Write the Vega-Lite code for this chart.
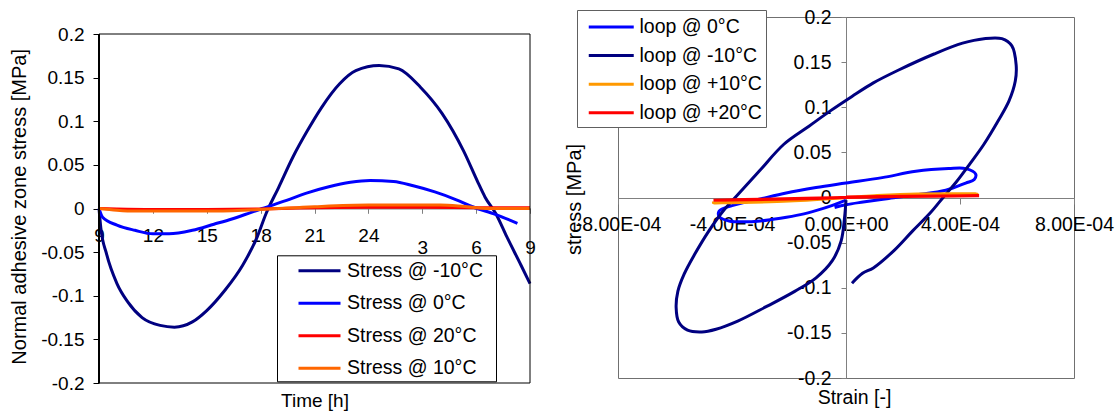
{
  "$schema": "https://vega.github.io/schema/vega-lite/v6.json",
  "background": "white",
  "padding": {"left": 8, "top": 6, "right": 0, "bottom": 0},
  "spacing": 27,
  "resolve": {"scale": {"color": "independent"}, "legend": {"color": "independent"}},
  "config": {
    "font": "Liberation Sans",
    "axis": {"grid": false, "labelFont": "Liberation Sans", "titleFont": "Liberation Sans", "labelColor": "black", "titleColor": "black", "titleFontWeight": "normal"},
    "legend": {"labelFont": "Liberation Sans", "labelColor": "black"}
  },
  "datasets": {
    "timeseries": [
      {"series": "Stress @ -10°C", "time": 9.0, "stress": 0.0},
      {"series": "Stress @ -10°C", "time": 9.1, "stress": -0.022},
      {"series": "Stress @ -10°C", "time": 9.42, "stress": -0.052},
      {"series": "Stress @ -10°C", "time": 10.0, "stress": -0.086},
      {"series": "Stress @ -10°C", "time": 10.6, "stress": -0.107},
      {"series": "Stress @ -10°C", "time": 11.4, "stress": -0.125},
      {"series": "Stress @ -10°C", "time": 12.4, "stress": -0.134},
      {"series": "Stress @ -10°C", "time": 13.2, "stress": -0.136},
      {"series": "Stress @ -10°C", "time": 14.2, "stress": -0.13},
      {"series": "Stress @ -10°C", "time": 15.0, "stress": -0.117},
      {"series": "Stress @ -10°C", "time": 16.0, "stress": -0.094},
      {"series": "Stress @ -10°C", "time": 17.0, "stress": -0.065},
      {"series": "Stress @ -10°C", "time": 17.8, "stress": -0.033},
      {"series": "Stress @ -10°C", "time": 18.3, "stress": -0.006},
      {"series": "Stress @ -10°C", "time": 19.0, "stress": 0.024},
      {"series": "Stress @ -10°C", "time": 19.8, "stress": 0.059},
      {"series": "Stress @ -10°C", "time": 20.6, "stress": 0.089},
      {"series": "Stress @ -10°C", "time": 21.4, "stress": 0.116},
      {"series": "Stress @ -10°C", "time": 22.4, "stress": 0.143},
      {"series": "Stress @ -10°C", "time": 23.3, "stress": 0.158},
      {"series": "Stress @ -10°C", "time": 24.6, "stress": 0.164},
      {"series": "Stress @ -10°C", "time": 25.7, "stress": 0.16},
      {"series": "Stress @ -10°C", "time": 26.9, "stress": 0.139},
      {"series": "Stress @ -10°C", "time": 28.1, "stress": 0.109},
      {"series": "Stress @ -10°C", "time": 29.3, "stress": 0.066},
      {"series": "Stress @ -10°C", "time": 30.1, "stress": 0.03},
      {"series": "Stress @ -10°C", "time": 30.5, "stress": 0.013},
      {"series": "Stress @ -10°C", "time": 31.1, "stress": -0.006},
      {"series": "Stress @ -10°C", "time": 31.7, "stress": -0.032},
      {"series": "Stress @ -10°C", "time": 32.5, "stress": -0.065},
      {"series": "Stress @ -10°C", "time": 33.0, "stress": -0.086},
      {"series": "Stress @ 0°C", "time": 9.0, "stress": 0.0},
      {"series": "Stress @ 0°C", "time": 9.2, "stress": -0.01},
      {"series": "Stress @ 0°C", "time": 10.0, "stress": -0.019},
      {"series": "Stress @ 0°C", "time": 11.0, "stress": -0.025},
      {"series": "Stress @ 0°C", "time": 12.0, "stress": -0.029},
      {"series": "Stress @ 0°C", "time": 12.9, "stress": -0.029},
      {"series": "Stress @ 0°C", "time": 14.2, "stress": -0.025},
      {"series": "Stress @ 0°C", "time": 15.4, "stress": -0.018},
      {"series": "Stress @ 0°C", "time": 16.4, "stress": -0.012},
      {"series": "Stress @ 0°C", "time": 17.4, "stress": -0.005},
      {"series": "Stress @ 0°C", "time": 18.1, "stress": 0.0},
      {"series": "Stress @ 0°C", "time": 19.4, "stress": 0.009},
      {"series": "Stress @ 0°C", "time": 20.6, "stress": 0.018},
      {"series": "Stress @ 0°C", "time": 21.8, "stress": 0.025},
      {"series": "Stress @ 0°C", "time": 23.0, "stress": 0.03},
      {"series": "Stress @ 0°C", "time": 24.1, "stress": 0.032},
      {"series": "Stress @ 0°C", "time": 25.4, "stress": 0.031},
      {"series": "Stress @ 0°C", "time": 26.5, "stress": 0.026},
      {"series": "Stress @ 0°C", "time": 27.7, "stress": 0.019},
      {"series": "Stress @ 0°C", "time": 28.9, "stress": 0.01},
      {"series": "Stress @ 0°C", "time": 29.8, "stress": 0.002},
      {"series": "Stress @ 0°C", "time": 31.1, "stress": -0.007},
      {"series": "Stress @ 0°C", "time": 32.3, "stress": -0.017},
      {"series": "Stress @ 20°C", "time": 9.0, "stress": 0.0},
      {"series": "Stress @ 20°C", "time": 10.0, "stress": -0.0005},
      {"series": "Stress @ 20°C", "time": 12.0, "stress": -0.001},
      {"series": "Stress @ 20°C", "time": 15.0, "stress": -0.001},
      {"series": "Stress @ 20°C", "time": 18.0, "stress": -0.0005},
      {"series": "Stress @ 20°C", "time": 20.0, "stress": 0.0005},
      {"series": "Stress @ 20°C", "time": 24.0, "stress": 0.0015},
      {"series": "Stress @ 20°C", "time": 27.0, "stress": 0.0015},
      {"series": "Stress @ 20°C", "time": 30.0, "stress": 0.001},
      {"series": "Stress @ 20°C", "time": 33.0, "stress": 0.0008},
      {"series": "Stress @ 10°C", "time": 9.0, "stress": 0.0},
      {"series": "Stress @ 10°C", "time": 10.0, "stress": -0.002},
      {"series": "Stress @ 10°C", "time": 11.0, "stress": -0.003},
      {"series": "Stress @ 10°C", "time": 15.0, "stress": -0.003},
      {"series": "Stress @ 10°C", "time": 17.0, "stress": -0.002},
      {"series": "Stress @ 10°C", "time": 18.0, "stress": -0.001},
      {"series": "Stress @ 10°C", "time": 19.0, "stress": 0.0},
      {"series": "Stress @ 10°C", "time": 20.0, "stress": 0.001},
      {"series": "Stress @ 10°C", "time": 21.0, "stress": 0.002},
      {"series": "Stress @ 10°C", "time": 24.0, "stress": 0.004},
      {"series": "Stress @ 10°C", "time": 28.0, "stress": 0.004},
      {"series": "Stress @ 10°C", "time": 29.0, "stress": 0.003},
      {"series": "Stress @ 10°C", "time": 30.0, "stress": 0.001},
      {"series": "Stress @ 10°C", "time": 31.0, "stress": 0.0},
      {"series": "Stress @ 10°C", "time": 33.0, "stress": 0.0}
    ],
    "loops": [
      {"loop": "loop @ 0°C", "i": 1, "strain": 0.0, "stress": -0.003},
      {"loop": "loop @ 0°C", "i": 2, "strain": -0.00005, "stress": -0.009},
      {"loop": "loop @ 0°C", "i": 3, "strain": -0.0001, "stress": -0.014},
      {"loop": "loop @ 0°C", "i": 4, "strain": -0.00016, "stress": -0.019},
      {"loop": "loop @ 0°C", "i": 5, "strain": -0.00023, "stress": -0.023},
      {"loop": "loop @ 0°C", "i": 6, "strain": -0.0003, "stress": -0.026},
      {"loop": "loop @ 0°C", "i": 7, "strain": -0.00036, "stress": -0.027},
      {"loop": "loop @ 0°C", "i": 8, "strain": -0.00041, "stress": -0.026},
      {"loop": "loop @ 0°C", "i": 9, "strain": -0.000445, "stress": -0.021},
      {"loop": "loop @ 0°C", "i": 10, "strain": -0.000445, "stress": -0.015},
      {"loop": "loop @ 0°C", "i": 11, "strain": -0.0004, "stress": -0.009},
      {"loop": "loop @ 0°C", "i": 12, "strain": -0.000305, "stress": -0.002},
      {"loop": "loop @ 0°C", "i": 13, "strain": -0.00021, "stress": 0.005},
      {"loop": "loop @ 0°C", "i": 14, "strain": -0.000105, "stress": 0.011},
      {"loop": "loop @ 0°C", "i": 15, "strain": 0.0, "stress": 0.016},
      {"loop": "loop @ 0°C", "i": 16, "strain": 0.000127, "stress": 0.022},
      {"loop": "loop @ 0°C", "i": 17, "strain": 0.000245, "stress": 0.029},
      {"loop": "loop @ 0°C", "i": 18, "strain": 0.00036, "stress": 0.032},
      {"loop": "loop @ 0°C", "i": 19, "strain": 0.00042, "stress": 0.032},
      {"loop": "loop @ 0°C", "i": 20, "strain": 0.000455, "stress": 0.026},
      {"loop": "loop @ 0°C", "i": 21, "strain": 0.00045, "stress": 0.02},
      {"loop": "loop @ 0°C", "i": 22, "strain": 0.00042, "stress": 0.016},
      {"loop": "loop @ 0°C", "i": 23, "strain": 0.00035, "stress": 0.008},
      {"loop": "loop @ 0°C", "i": 24, "strain": 0.00025, "stress": 0.003},
      {"loop": "loop @ 0°C", "i": 25, "strain": 0.00015, "stress": -0.001},
      {"loop": "loop @ 0°C", "i": 26, "strain": 0.00006, "stress": -0.005},
      {"loop": "loop @ 0°C", "i": 27, "strain": 0.0, "stress": -0.008},
      {"loop": "loop @ 0°C", "i": 28, "strain": -0.00004, "stress": -0.011},
      {"loop": "loop @ -10°C", "i": 1, "strain": 0.0, "stress": -0.003},
      {"loop": "loop @ -10°C", "i": 2, "strain": -0.000005, "stress": -0.022},
      {"loop": "loop @ -10°C", "i": 3, "strain": -0.000017, "stress": -0.048},
      {"loop": "loop @ -10°C", "i": 4, "strain": -0.000048, "stress": -0.07},
      {"loop": "loop @ -10°C", "i": 5, "strain": -0.000105, "stress": -0.089},
      {"loop": "loop @ -10°C", "i": 6, "strain": -0.00018, "stress": -0.104},
      {"loop": "loop @ -10°C", "i": 7, "strain": -0.00028, "stress": -0.121},
      {"loop": "loop @ -10°C", "i": 8, "strain": -0.00038, "stress": -0.137},
      {"loop": "loop @ -10°C", "i": 9, "strain": -0.000456, "stress": -0.146},
      {"loop": "loop @ -10°C", "i": 10, "strain": -0.000506, "stress": -0.149},
      {"loop": "loop @ -10°C", "i": 11, "strain": -0.000556, "stress": -0.147},
      {"loop": "loop @ -10°C", "i": 12, "strain": -0.000587, "stress": -0.138},
      {"loop": "loop @ -10°C", "i": 13, "strain": -0.000596, "stress": -0.122},
      {"loop": "loop @ -10°C", "i": 14, "strain": -0.00059, "stress": -0.104},
      {"loop": "loop @ -10°C", "i": 15, "strain": -0.000568, "stress": -0.085},
      {"loop": "loop @ -10°C", "i": 16, "strain": -0.000531, "stress": -0.063},
      {"loop": "loop @ -10°C", "i": 17, "strain": -0.000481, "stress": -0.037},
      {"loop": "loop @ -10°C", "i": 18, "strain": -0.000431, "stress": -0.015},
      {"loop": "loop @ -10°C", "i": 19, "strain": -0.00038, "stress": 0.003},
      {"loop": "loop @ -10°C", "i": 20, "strain": -0.000305, "stress": 0.029},
      {"loop": "loop @ -10°C", "i": 21, "strain": -0.000218, "stress": 0.059},
      {"loop": "loop @ -10°C", "i": 22, "strain": -0.00013, "stress": 0.079},
      {"loop": "loop @ -10°C", "i": 23, "strain": -0.000055, "stress": 0.096},
      {"loop": "loop @ -10°C", "i": 24, "strain": 0.000021, "stress": 0.112},
      {"loop": "loop @ -10°C", "i": 25, "strain": 0.000096, "stress": 0.127},
      {"loop": "loop @ -10°C", "i": 26, "strain": 0.000183, "stress": 0.141},
      {"loop": "loop @ -10°C", "i": 27, "strain": 0.000309, "stress": 0.159},
      {"loop": "loop @ -10°C", "i": 28, "strain": 0.000409, "stress": 0.171},
      {"loop": "loop @ -10°C", "i": 29, "strain": 0.000484, "stress": 0.176},
      {"loop": "loop @ -10°C", "i": 30, "strain": 0.000547, "stress": 0.176},
      {"loop": "loop @ -10°C", "i": 31, "strain": 0.000582, "stress": 0.168},
      {"loop": "loop @ -10°C", "i": 32, "strain": 0.000597, "stress": 0.147},
      {"loop": "loop @ -10°C", "i": 33, "strain": 0.000594, "stress": 0.129},
      {"loop": "loop @ -10°C", "i": 34, "strain": 0.000572, "stress": 0.107},
      {"loop": "loop @ -10°C", "i": 35, "strain": 0.000534, "stress": 0.085},
      {"loop": "loop @ -10°C", "i": 36, "strain": 0.000484, "stress": 0.059},
      {"loop": "loop @ -10°C", "i": 37, "strain": 0.000434, "stress": 0.037},
      {"loop": "loop @ -10°C", "i": 38, "strain": 0.000384, "stress": 0.016},
      {"loop": "loop @ -10°C", "i": 39, "strain": 0.000346, "stress": 0.002},
      {"loop": "loop @ -10°C", "i": 40, "strain": 0.000296, "stress": -0.017},
      {"loop": "loop @ -10°C", "i": 41, "strain": 0.000234, "stress": -0.037},
      {"loop": "loop @ -10°C", "i": 42, "strain": 0.000171, "stress": -0.058},
      {"loop": "loop @ -10°C", "i": 43, "strain": 0.000096, "stress": -0.078},
      {"loop": "loop @ -10°C", "i": 44, "strain": 0.000058, "stress": -0.084},
      {"loop": "loop @ -10°C", "i": 45, "strain": 0.000021, "stress": -0.095},
      {"loop": "loop @ +10°C", "i": 1, "strain": 0.0, "stress": 0.0},
      {"loop": "loop @ +10°C", "i": 2, "strain": -0.0002, "stress": -0.004},
      {"loop": "loop @ +10°C", "i": 3, "strain": -0.000465, "stress": -0.006},
      {"loop": "loop @ +10°C", "i": 4, "strain": -0.0003, "stress": -0.004},
      {"loop": "loop @ +10°C", "i": 5, "strain": -0.0001, "stress": -0.002},
      {"loop": "loop @ +10°C", "i": 6, "strain": 0.0, "stress": 0.0},
      {"loop": "loop @ +10°C", "i": 7, "strain": 0.0001, "stress": 0.002},
      {"loop": "loop @ +10°C", "i": 8, "strain": 0.00025, "stress": 0.004},
      {"loop": "loop @ +10°C", "i": 9, "strain": 0.00046, "stress": 0.004},
      {"loop": "loop @ +10°C", "i": 10, "strain": 0.00025, "stress": 0.003},
      {"loop": "loop @ +10°C", "i": 11, "strain": 0.00005, "stress": 0.001},
      {"loop": "loop @ +20°C", "i": 1, "strain": 0.0, "stress": 0.0},
      {"loop": "loop @ +20°C", "i": 2, "strain": -0.0001, "stress": -0.001},
      {"loop": "loop @ +20°C", "i": 3, "strain": -0.00025, "stress": -0.002},
      {"loop": "loop @ +20°C", "i": 4, "strain": -0.000465, "stress": -0.003},
      {"loop": "loop @ +20°C", "i": 5, "strain": -0.0003, "stress": -0.002},
      {"loop": "loop @ +20°C", "i": 6, "strain": 0.0, "stress": 0.0},
      {"loop": "loop @ +20°C", "i": 7, "strain": 0.0002, "stress": 0.001},
      {"loop": "loop @ +20°C", "i": 8, "strain": 0.000467, "stress": 0.002},
      {"loop": "loop @ +20°C", "i": 9, "strain": 0.0002, "stress": 0.0015},
      {"loop": "loop @ +20°C", "i": 10, "strain": 0.0, "stress": 0.0005}
    ]
  },
  "hconcat": [
    {
      "width": 431,
      "height": 366,
      "view": {"stroke": null, "fill": "white"},
      "layer": [
        {
          "data": {"name": "timeseries"},
          "mark": {"type": "line", "strokeWidth": 3, "interpolate": "monotone"},
          "encoding": {
            "x": {
              "field": "time", "type": "quantitative",
              "scale": {"domain": [9, 33], "nice": false, "zero": false},
              "axis": {
                "values": [9, 12, 15, 18, 21, 24, 27, 30, 33],
                "labelExpr": "datum.value > 24 ? '' + (datum.value - 24) : '' + datum.value",
                "offset": -174.7,
                "domainColor": "#808080", "domainWidth": 1.5,
                "tickColor": "#808080", "tickSize": 5,
                "labelFontSize": 19,
                "labelPadding": {"condition": {"test": "datum.value > 24", "value": 25}, "value": 13},
                "labelFlush": false, "labelOverlap": false,
                "title": "Time [h]", "titleFontSize": 19,
                "titleY": 192, "titleBaseline": "middle"
              }
            },
            "y": {
              "field": "stress", "type": "quantitative",
              "scale": {"domain": [-0.2, 0.2195], "nice": false},
              "axis": {
                "values": [-0.2, -0.15, -0.1, -0.05, 0, 0.05, 0.1, 0.15, 0.2],
                "labelExpr": "'' + datum.value",
                "domain": false,
                "tickColor": "black", "tickSize": 6,
                "labelFontSize": 19, "labelPadding": 9,
                "title": "Normal adhesive zone stress [MPa]", "titleFontSize": 20,
                "titleX": -80, "titleY": 189.3, "titleAngle": 270,
                "titleAlign": "center", "titleBaseline": "middle"
              }
            },
            "color": {
              "field": "series", "type": "nominal",
              "scale": {
                "domain": ["Stress @ -10°C", "Stress @ 0°C", "Stress @ 20°C", "Stress @ 10°C"],
                "range": ["#000080", "#0000FF", "#FF0000", "#FF6600"]
              },
              "legend": {
                "orient": "none", "legendX": 178, "legendY": 238.3,
                "title": " ", "titleOrient": "right", "titleFontSize": 1, "titlePadding": 9.5,
                "fillColor": "white", "strokeColor": "black",
                "padding": 3.5, "symbolOffset": 27,
                "symbolType": "M-2,0L2,0", "symbolSize": 441, "symbolStrokeWidth": 3,
                "labelFontSize": 19.5, "labelOffset": 15.5, "labelLimit": 300, "rowPadding": 10.5
              }
            }
          }
        },
        {
          "data": {"values": [{}]},
          "mark": {"type": "rule", "color": "black", "strokeWidth": 1},
          "encoding": {
            "x": {"datum": 9, "type": "quantitative", "scale": {"domain": [9, 33], "nice": false, "zero": false}},
            "x2": {"datum": 33},
            "y": {"datum": 0.2, "type": "quantitative", "scale": {"domain": [-0.2, 0.2195], "nice": false}}
          }
        },
        {
          "data": {"values": [{}]},
          "mark": {"type": "rule", "color": "black", "strokeWidth": 1},
          "encoding": {
            "x": {"datum": 9, "type": "quantitative", "scale": {"domain": [9, 33], "nice": false, "zero": false}},
            "x2": {"datum": 33},
            "y": {"datum": -0.2, "type": "quantitative", "scale": {"domain": [-0.2, 0.2195], "nice": false}}
          }
        },
        {
          "data": {"values": [{}]},
          "mark": {"type": "rule", "color": "black", "strokeWidth": 1},
          "encoding": {
            "x": {"datum": 33, "type": "quantitative", "scale": {"domain": [9, 33], "nice": false, "zero": false}},
            "y": {"datum": -0.2, "type": "quantitative", "scale": {"domain": [-0.2, 0.2195], "nice": false}},
            "y2": {"datum": 0.2}
          }
        },
        {
          "data": {"values": [{}]},
          "mark": {"type": "rule", "color": "black", "strokeWidth": 2},
          "encoding": {
            "x": {"datum": 9, "type": "quantitative", "scale": {"domain": [9, 33], "nice": false, "zero": false}},
            "y": {"datum": -0.2, "type": "quantitative", "scale": {"domain": [-0.2, 0.2195], "nice": false}},
            "y2": {"datum": 0.2}
          }
        }
      ]
    },
    {
      "width": 456,
      "height": 361,
      "view": {"stroke": "#707070", "strokeWidth": 1, "fill": "white"},
      "data": {"name": "loops"},
      "mark": {"type": "line", "strokeWidth": 3, "interpolate": "catmull-rom"},
      "encoding": {
        "x": {
          "field": "strain", "type": "quantitative",
          "scale": {"domain": [-0.0008, 0.0008], "nice": false, "zero": false},
          "axis": {
            "values": [-0.0008, -0.0004, 0, 0.0004, 0.0008],
            "labelExpr": "datum.value == 0 ? '0.00E+00' : (datum.value < 0 ? '-' : '') + format(abs(datum.value) * 10000, '.2f') + 'E-04'",
            "offset": -180,
            "domainColor": "#808080", "tickColor": "#808080", "tickSize": 6,
            "labelFontSize": 19.5, "labelPadding": 11,
            "labelFlush": false, "labelOverlap": false,
            "title": "Strain [-]", "titleFontSize": 19.5,
            "titleX": 236, "titleY": 199, "titleBaseline": "middle", "titleAlign": "center"
          }
        },
        "y": {
          "field": "stress", "type": "quantitative",
          "scale": {"domain": [-0.2, 0.2], "nice": false},
          "axis": {
            "values": [-0.2, -0.15, -0.1, -0.05, 0, 0.05, 0.1, 0.15, 0.2],
            "labelExpr": "'' + datum.value",
            "offset": -228,
            "domainColor": "#808080", "tickColor": "#808080", "tickSize": 5,
            "labelFontSize": 19.5, "labelPadding": 10,
            "title": "stress [MPa]", "titleFontSize": 20,
            "titleX": -272, "titleY": 182, "titleAngle": 270,
            "titleAlign": "center", "titleBaseline": "middle"
          }
        },
        "order": {"field": "i", "type": "quantitative"},
        "color": {
          "field": "loop", "type": "nominal",
          "scale": {
            "domain": ["loop @ 0°C", "loop @ -10°C", "loop @ +10°C", "loop @ +20°C"],
            "range": ["#0000FF", "#000080", "#FF9900", "#FF0000"]
          },
          "legend": {
            "orient": "none", "legendX": -41, "legendY": -7,
            "title": null,
            "fillColor": "white", "strokeColor": "#606060",
            "padding": 4, "symbolOffset": 17.25,
            "symbolType": "M-2,0L2,0", "symbolSize": 506, "symbolStrokeWidth": 3,
            "labelFontSize": 19.5, "labelOffset": 15.25, "labelLimit": 300, "rowPadding": 5.6
          }
        }
      }
    }
  ]
}
